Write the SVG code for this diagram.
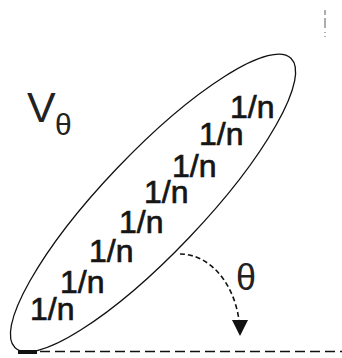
<svg xmlns="http://www.w3.org/2000/svg" width="342" height="358" viewBox="0 0 342 358">
  <defs>
    <style>
      .lbl { font-family: "Liberation Sans", Arial, sans-serif; font-size: 32px; fill: #151515; stroke: #151515; stroke-width: 0.7px; }
      .sym { font-family: "Liberation Sans", Arial, sans-serif; fill: #222; }
      .dash { stroke: #111; fill: none; }
    </style>
    <marker id="arrow" viewBox="0 0 16 16" markerWidth="16" markerHeight="16" refX="8" refY="15" orient="0" markerUnits="userSpaceOnUse">
      <path d="M0,0 L16,0 L8,16 Z" fill="#111"/>
    </marker>
  </defs>
  <rect width="342" height="358" fill="#fff"/>

  <g id="ellipse">
    <ellipse cx="0" cy="0" rx="200" ry="50" transform="translate(153,203) rotate(-46.4)" fill="none" stroke="#111" stroke-width="1.3"/>
  </g>

  <g id="label-V">
    <text class="sym" x="27" y="122" font-size="43">V</text>
    <text class="sym" x="55" y="135" font-size="30">θ</text>
  </g>

  <g id="labels">
    <text class="lbl" x="230" y="118">1/n</text>
    <text class="lbl" x="199" y="145">1/n</text>
    <text class="lbl" x="172" y="177">1/n</text>
    <text class="lbl" x="144" y="203">1/n</text>
    <text class="lbl" x="119" y="233">1/n</text>
    <text class="lbl" x="89" y="262">1/n</text>
    <text class="lbl" x="60" y="293">1/n</text>
    <text class="lbl" x="30" y="320">1/n</text>
  </g>

  <g id="label-theta">
    <text class="sym" x="236" y="290" font-size="36" fill="#444">θ</text>
  </g>

  <g id="connectors">
    <line class="dash" x1="40" y1="351.5" x2="342" y2="351.5" stroke-width="1.5" stroke-dasharray="10,5"/>
    <path class="dash" d="M180,254 A60,81 0 0 1 240,335" stroke-width="1.6" stroke-dasharray="5,3" marker-end="url(#arrow)"/>
    <rect x="18" y="350" width="19" height="4" fill="#111"/>
    <line x1="325" y1="10" x2="325" y2="38" stroke="#777" stroke-width="1.2" stroke-dasharray="5,3,10,4,1,3,1,3"/>
  </g>
</svg>
